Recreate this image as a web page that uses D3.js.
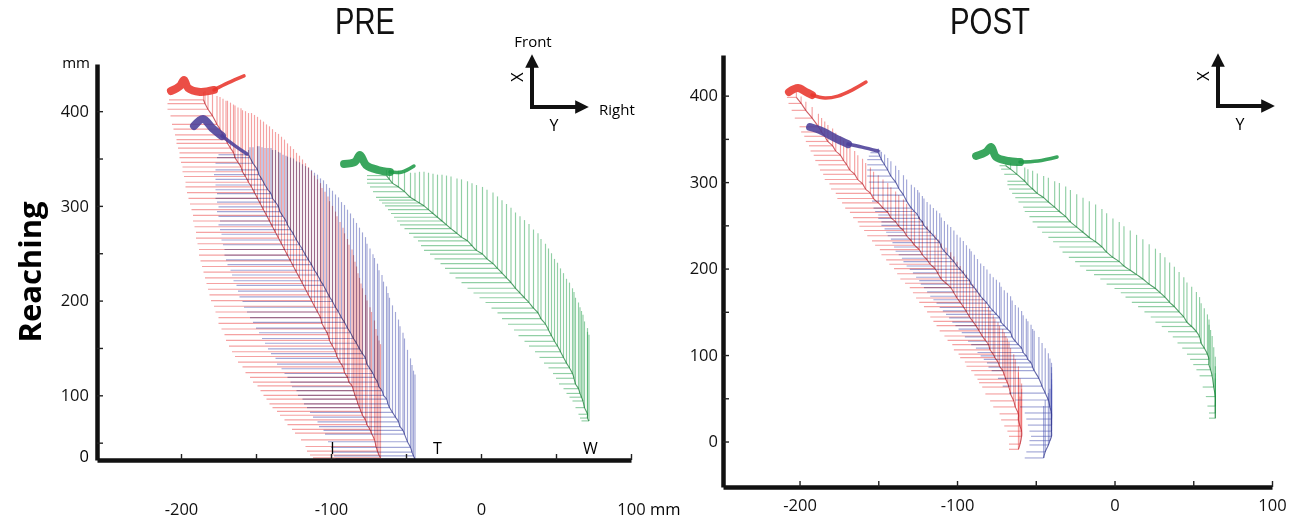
<!DOCTYPE html>
<html><head><meta charset="utf-8">
<script src="https://cdnjs.cloudflare.com/ajax/libs/d3/7.8.5/d3.min.js"></script>
<style>body{margin:0;background:#fff;}svg{display:block;}</style>
</head><body>
<svg id="chart" width="1300" height="527"></svg>
<script>
// ---------- DATA (mm) ----------
const panelTitles = ["PRE", "POST"];
const markerNames = ["I", "T", "W"];
const xTicks = [-200, -150, -100, -50, 0, 50, 100];
const xTickLabels = [-200, -100, 0, 100];
const yTicksPre = [50, 100, 150, 200, 250, 300, 350, 400];
const yTicksPost = [0, 50, 100, 150, 200, 250, 300, 350, 400];
const yTickLabels = [0, 100, 200, 300, 400];

// rows: [x, y, horizontal stick length, vertical stick length]
const preI = [[-185,412,23,8],[-184,408,25,13],[-182,402,27,17],[-179,395,28,23],[-176,386,30,30],[-174,381,31,34],[-172,375,32,38],[-170,370,33,41],[-169,366,34,45],[-167,361,35,48],[-165,356,36,51],[-164,351,37,55],[-162,346,38,58],[-160,341,39,62],[-159,336,40,65],[-157,331,41,69],[-155,325,42,73],[-153,320,44,78],[-151,314,45,82],[-149,308,46,86],[-147,302,47,89],[-145,296,48,93],[-143,290,49,96],[-141,284,51,100],[-139,278,52,103],[-137,272,53,106],[-135,266,55,110],[-133,260,56,113],[-131,254,57,116],[-129,248,59,118],[-127,242,60,121],[-125,236,61,124],[-123,230,62,126],[-121,224,63,129],[-119,218,64,131],[-117,212,65,133],[-115,206,66,135],[-113,200,67,137],[-111,194,67,138],[-109,188,68,140],[-107,182,68,142],[-106,176,69,143],[-104,170,69,145],[-102,164,69,146],[-101,158,69,147],[-99,152,69,148],[-97,146,69,148],[-96,141,68,148],[-94,135,68,148],[-92,130,67,147],[-91,124,66,147],[-89,119,65,146],[-88,114,64,145],[-86,110,63,144],[-85,105,62,143],[-84,100,61,141],[-83,96,60,140],[-82,91,59,138],[-81,87,58,137],[-80,83,56,135],[-79,79,55,134],[-77,74,54,132],[-76,69,53,131],[-74,64,52,129],[-73,60,51,128],[-71,53,49,126],[-70,46,47,124],[-69,41,47,122],[-68,37,46,121],[-67,34,45,120]];
const preT = [[-155,354,20,5],[-154,351,22,11],[-152,345,25,17],[-149,338,28,25],[-148,333,30,30],[-146,328,31,34],[-144,322,33,39],[-142,317,35,44],[-140,313,36,48],[-139,308,38,51],[-137,304,39,55],[-135,299,40,58],[-134,294,42,62],[-132,289,43,65],[-130,284,44,69],[-129,280,46,72],[-127,275,47,76],[-125,270,48,80],[-123,264,50,83],[-121,259,51,87],[-119,254,52,90],[-117,248,54,94],[-115,243,55,97],[-113,238,56,100],[-111,232,56,103],[-109,227,57,106],[-107,221,58,108],[-105,216,58,111],[-103,210,59,113],[-101,204,60,115],[-99,199,60,117],[-97,193,61,119],[-95,188,61,121],[-93,182,61,122],[-91,177,61,124],[-89,171,61,125],[-87,166,61,126],[-85,160,61,127],[-83,155,61,127],[-81,149,61,128],[-79,144,61,128],[-77,139,60,128],[-76,133,60,127],[-74,128,59,127],[-72,123,59,126],[-71,119,58,126],[-69,114,58,125],[-68,109,58,123],[-66,105,57,122],[-65,100,57,120],[-63,96,56,119],[-62,91,56,117],[-61,87,55,116],[-59,82,55,113],[-57,77,55,111],[-55,72,54,108],[-54,67,54,106],[-52,63,53,103],[-51,59,53,101],[-49,51,53,97],[-47,45,53,94],[-46,40,53,92],[-45,36,53,90],[-44,33,53,89]];
const preW = [[-63,332,13,6],[-61,328,15,10],[-59,324,17,13],[-55,320,19,17],[-51,315,21,21],[-47,309,23,26],[-44,306,24,29],[-41,303,25,33],[-38,300,26,36],[-35,296,27,39],[-32,292,28,42],[-29,288,29,45],[-26,284,30,49],[-23,280,31,52],[-20,276,31,55],[-16,271,32,58],[-13,267,32,61],[-9,263,33,63],[-6,258,34,66],[-3,253,35,69],[1,249,35,71],[4,244,35,73],[8,239,35,75],[11,234,35,76],[14,229,35,77],[17,224,34,78],[20,219,33,79],[23,213,32,80],[26,208,31,81],[29,203,30,82],[32,198,29,83],[35,192,28,83],[38,187,27,84],[40,181,26,84],[43,175,25,85],[45,169,23,86],[47,163,22,87],[49,157,20,87],[51,152,19,88],[53,146,17,88],[55,140,16,89],[57,134,15,89],[59,129,14,90],[61,123,13,90],[62,118,12,91],[63,112,11,91],[65,107,10,91],[66,102,9,91],[67,98,8,91],[68,94,7,91],[69,87,6,91],[71,80,6,91],[71,76,5,91],[72,73,5,91]];
const postI = [[-202,398,6,6],[-199,391,8,8],[-196,383,9,10],[-192,374,11,13],[-188,364,12,15],[-186,358,13,16],[-184,353,13,17],[-182,347,14,19],[-179,342,15,20],[-177,336,16,21],[-174,331,17,22],[-172,325,18,23],[-170,320,18,24],[-168,314,19,26],[-165,309,20,27],[-163,303,21,28],[-160,298,21,29],[-158,292,22,30],[-155,287,22,30],[-153,281,23,31],[-150,276,23,32],[-147,270,24,33],[-144,265,24,34],[-142,259,24,35],[-139,254,24,35],[-137,249,25,36],[-134,244,25,36],[-132,238,25,37],[-129,232,25,37],[-127,227,25,38],[-124,222,25,38],[-122,216,26,39],[-119,210,26,39],[-117,205,26,39],[-114,200,26,39],[-112,194,26,40],[-110,188,26,41],[-107,183,26,41],[-104,178,26,41],[-102,172,26,42],[-100,166,26,42],[-98,161,26,42],[-96,156,25,42],[-94,150,25,43],[-92,144,25,43],[-90,139,25,43],[-88,134,25,43],[-86,128,25,44],[-84,122,24,44],[-82,117,24,44],[-80,112,23,44],[-79,106,23,45],[-77,101,22,45],[-76,97,22,45],[-74,92,21,46],[-73,87,21,47],[-71,82,20,48],[-70,77,19,49],[-69,72,18,50],[-68,68,18,51],[-67,63,17,52],[-66,55,16,53],[-64,47,15,54],[-63,40,14,55],[-61,32,12,55],[-61,25,11,55],[-60,18,10,55],[-59,12,9,55],[-59,6,8,55],[-60,-3,7,55],[-61,-9,6,55]];
const postT = [[-150,334,5,5],[-149,330,7,7],[-148,326,9,9],[-146,320,11,12],[-144,314,13,14],[-142,307,15,17],[-139,300,17,19],[-137,293,18,21],[-134,285,20,23],[-132,278,22,25],[-129,270,24,27],[-127,266,25,28],[-125,262,25,29],[-124,258,26,30],[-122,254,26,30],[-121,250,27,31],[-119,246,27,31],[-117,242,28,32],[-115,238,29,32],[-113,234,29,33],[-111,230,30,34],[-110,225,30,34],[-108,220,31,35],[-106,216,31,35],[-104,212,31,36],[-102,208,32,36],[-100,203,32,36],[-98,199,32,37],[-96,195,32,37],[-94,190,32,37],[-92,186,32,37],[-91,182,32,38],[-89,178,32,38],[-87,173,32,38],[-85,168,32,38],[-83,164,32,39],[-81,160,32,39],[-79,155,32,39],[-77,151,32,39],[-75,147,32,40],[-73,143,32,41],[-72,138,31,41],[-70,134,31,41],[-68,130,31,42],[-66,126,31,42],[-65,121,30,42],[-63,116,30,42],[-61,112,30,43],[-59,108,29,43],[-58,103,29,43],[-56,99,29,43],[-55,95,28,44],[-53,91,28,44],[-52,86,28,44],[-51,82,27,46],[-48,73,26,48],[-46,64,25,50],[-44,56,23,52],[-42,48,21,54],[-41,40,19,56],[-40,33,17,58],[-40,26,16,60],[-40,19,15,60],[-40,12,14,60],[-40,6,13,60],[-41,1,13,60],[-42,-4,12,60],[-44,-12,12,60],[-45,-19,12,60]];
const postW = [[-69,319,4,3],[-66,315,6,7],[-62,309,8,12],[-57,301,11,16],[-55,297,13,18],[-52,292,15,21],[-49,287,16,23],[-45,282,18,25],[-42,277,19,28],[-38,271,20,30],[-35,266,22,33],[-31,260,23,35],[-28,254,24,37],[-24,248,25,38],[-20,242,26,40],[-16,236,26,42],[-12,231,27,43],[-8,225,27,44],[-5,219,28,45],[-1,213,28,45],[3,208,28,46],[6,203,28,46],[10,198,28,46],[14,193,27,46],[18,188,27,46],[22,182,27,46],[26,177,26,46],[29,172,25,46],[32,167,25,46],[35,161,24,46],[38,156,23,46],[41,150,22,46],[44,144,21,46],[46,138,20,46],[49,133,19,46],[52,127,18,46],[54,121,17,46],[55,114,15,46],[57,108,14,46],[59,101,13,46],[60,95,12,46],[60,89,10,46],[61,83,9,46],[62,76,8,46],[63,63,7,46],[64,52,6,46],[64,41,5,46],[64,33,4,46],[64,27,4,46]];

// start-position clusters: thick body and thinner tail (x, y)
const preIStart = [[-206.7,421.3],[-200.7,426.6],[-198,433],[-195.3,424.5],[-187.3,420.3],[-178,422.4]];
const preITail = [[-178,422.4],[-168.7,429.8],[-158,437.2]];
const preTStart = [[-191.3,384.4],[-185.3,391.8],[-179.3,382.3],[-172.7,373.8]];
const preTTail = [[-172.7,373.8],[-164,363.3],[-156,354.8]];
const preWStart = [[-91.3,344.3],[-84,346.4],[-80.7,353.8],[-76.7,343.2],[-68.7,337.9],[-60.7,335.8]];
const preWTail = [[-60.7,335.8],[-52.7,335.8],[-44.7,342.1]];
const postIStart = [[-206.7,404.2],[-201,408.8],[-195.9,404.2],[-192.1,400.7]];
const postITail = [[-192.1,400.7],[-183.8,397.2],[-175.6,399.5],[-166.7,406.4],[-157.8,415.7]];
const postTStart = [[-193.3,363.7],[-185.7,359],[-177.5,351],[-169.2,344]];
const postTTail = [[-169.2,344],[-160.3,340.5],[-150.2,335.9]];
const postWStart = [[-87.9,330.2],[-81.6,334.8],[-78.4,340.6],[-75.2,329],[-67.6,324.4],[-60,323.2]];
const postWTail = [[-60,323.2],[-48.6,324.4],[-36.5,329]];

const markerLabelPos = [[-99,44],[-29,44],[73,44]]; // I, T, W in PRE

// ---------- STYLE ----------
const col = {
  I: {stick: "rgba(236,70,70,0.5)", spine: "rgba(190,40,50,0.75)", blob: "#e8352c"},
  T: {stick: "rgba(70,80,175,0.5)", spine: "rgba(50,55,140,0.75)", blob: "#4b3f98"},
  W: {stick: "rgba(35,160,75,0.5)", spine: "rgba(25,125,55,0.75)", blob: "#1f9a48"}
};
const svg = d3.select("#chart");
const FONT = "'Open Sans', 'Noto Sans', sans-serif";

function panel(cfg) {
  const g = svg.append("g");
  const x = d3.scaleLinear().domain(cfg.xDomain).range(cfg.xRange);
  const y = d3.scaleLinear().domain(cfg.yDomain).range(cfg.yRange);

  cfg.lenses.forEach(([rows, key]) => {
    const lg = g.append("g").style("mix-blend-mode", "multiply");
    lg.selectAll("line.h").data(rows).join("line").attr("class", "h")
      .attr("x1", d => x(d[0] - d[2])).attr("x2", d => x(d[0]))
      .attr("y1", d => y(d[1])).attr("y2", d => y(d[1]))
      .attr("stroke", col[key].stick).attr("stroke-width", 1.15);
    lg.selectAll("line.v").data(rows).join("line").attr("class", "v")
      .attr("x1", d => x(d[0])).attr("x2", d => x(d[0]))
      .attr("y1", d => y(d[1])).attr("y2", d => y(d[1] + d[3]))
      .attr("stroke", col[key].stick).attr("stroke-width", 1.15);
    lg.append("path").datum(rows)
      .attr("d", d3.line().x(d => x(d[0])).y(d => y(d[1])).curve(d3.curveCatmullRom))
      .attr("fill", "none").attr("stroke", col[key].spine).attr("stroke-width", 1.1);
  });
  const bl = d3.line().x(d => x(d[0])).y(d => y(d[1])).curve(d3.curveCatmullRom);
  cfg.starts.forEach(([body, tail, key]) => {
    g.append("path").datum(body).attr("d", bl)
      .attr("fill", "none").attr("stroke", col[key].blob).attr("stroke-width", 8)
      .attr("stroke-linecap", "round").attr("stroke-linejoin", "round").attr("opacity", 0.88);
    g.append("path").datum(tail).attr("d", bl)
      .attr("fill", "none").attr("stroke", col[key].blob).attr("stroke-width", 3.5)
      .attr("stroke-linecap", "round").attr("stroke-linejoin", "round").attr("opacity", 0.88);
  });

  const yAxis = d3.axisLeft(y).tickValues(cfg.yTicks).tickSizeInner(-6).tickSizeOuter(0)
    .tickPadding(cfg.yPad).tickFormat(d => yTickLabels.includes(d) ? d : "");
  const ya = g.append("g").attr("transform", `translate(${cfg.xRange[0]},0)`).call(yAxis);
  const xAxis = d3.axisBottom(x).tickValues(xTicks).tickSizeInner(-6).tickSizeOuter(0)
    .tickPadding(cfg.xPad).tickFormat(d => xTickLabels.includes(d) ? d : "");
  const xa = g.append("g").attr("transform", `translate(0,${cfg.yRange[0]})`).call(xAxis);
  [ya, xa].forEach(a => {
    a.select(".domain").attr("stroke", "#111").attr("stroke-width", 4.5);
    a.selectAll(".tick line").attr("stroke", "#222").attr("stroke-width", 1.4);
    a.selectAll("text").attr("font-family", FONT).attr("font-size", 16.5).attr("fill", "#111");
  });
  if (cfg.zeroAtBase) {
    g.append("text").attr("x", cfg.xRange[0] - cfg.yPad).attr("y", y(cfg.yDomain[0]))
      .attr("dy", "0.1em").attr("text-anchor", "end").attr("font-family", FONT).attr("font-size", 16.5)
      .text(yTickLabels[0]);
  }
  g.append("text").attr("x", cfg.titleX).attr("y", 34).attr("text-anchor", "middle")
    .attr("font-family", "'Liberation Sans Narrow', 'Liberation Sans', sans-serif").attr("font-size", 36)
    .attr("textLength", cfg.titleW).attr("lengthAdjust", "spacingAndGlyphs")
    .attr("fill", "#111").text(cfg.title);
  return {g, x, y};
}

const pre = panel({
  title: panelTitles[0], titleX: 365, titleW: 60,
  xDomain: [-256, 100], xRange: [97, 631],
  yDomain: [31.7, 449.8], yRange: [460, 64],
  yTicks: yTicksPre, yPad: 8, xPad: 43, zeroAtBase: true,
  lenses: [[preT, "T"], [preI, "I"], [preW, "W"]],
  starts: [[preTStart, preTTail, "T"], [preIStart, preITail, "I"], [preWStart, preWTail, "W"]]
});
const post = panel({
  title: panelTitles[1], titleX: 990, titleW: 80,
  xDomain: [-248.6, 100], xRange: [723, 1272],
  yDomain: [-52.6, 447], yRange: [487, 55],
  yTicks: yTicksPost, yPad: 5, xPad: 12, zeroAtBase: false,
  lenses: [[postT, "T"], [postI, "I"], [postW, "W"]],
  starts: [[postTStart, postTTail, "T"], [postIStart, postITail, "I"], [postWStart, postWTail, "W"]]
});

pre.g.selectAll("text.mk").data(markerLabelPos).join("text").attr("class", "mk")
  .attr("x", d => pre.x(d[0])).attr("y", d => pre.y(d[1])).attr("dy", "0.35em")
  .attr("text-anchor", "middle").attr("font-family", FONT).attr("font-size", 16)
  .text((d, i) => markerNames[i]);

svg.append("text").attr("x", 90).attr("y", 68).attr("text-anchor", "end")
  .attr("font-family", FONT).attr("font-size", 15).text("mm");
svg.append("text").attr("x", 650).attr("y", 515)
  .attr("font-family", FONT).attr("font-size", 16.5).text("mm");

svg.append("text").attr("transform", "translate(41,272) rotate(-90)").attr("text-anchor", "middle")
  .attr("font-family", FONT).attr("font-weight", 700).attr("font-size", 31).text("Reaching");

const defs = svg.append("defs");
defs.append("marker").attr("id", "ah").attr("viewBox", "0 0 10 10").attr("refX", 5).attr("refY", 5)
  .attr("markerWidth", 3.4).attr("markerHeight", 3.4).attr("orient", "auto-start-reverse")
  .append("path").attr("d", "M0,0 L10,5 L0,10 z").attr("fill", "#111");
function frame(cx, cy, up, right, lblFront, lblRight) {
  const gg = svg.append("g");
  gg.append("path").attr("d", `M${cx},${cy} V${cy - up}`).attr("stroke", "#111").attr("stroke-width", 4)
    .attr("marker-end", "url(#ah)").attr("fill", "none");
  gg.append("path").attr("d", `M${cx - 2},${cy} H${cx + right}`).attr("stroke", "#111").attr("stroke-width", 4)
    .attr("marker-end", "url(#ah)").attr("fill", "none");
  gg.append("text").attr("transform", `translate(${cx - 15},${cy - 30}) rotate(-90)`).attr("text-anchor", "middle")
    .attr("dy", "0.35em").attr("font-family", FONT).attr("font-size", 16).text("X");
  gg.append("text").attr("x", cx + 22).attr("y", cy + 24).attr("text-anchor", "middle")
    .attr("font-family", FONT).attr("font-size", 16).text("Y");
  if (lblFront) gg.append("text").attr("x", cx + 1).attr("y", cy - 60).attr("text-anchor", "middle")
    .attr("font-family", FONT).attr("font-size", 15).text(lblFront);
  if (lblRight) gg.append("text").attr("x", cx + 67).attr("y", cy + 8)
    .attr("font-family", FONT).attr("font-size", 15).text(lblRight);
}
frame(532, 107, 46, 50, "Front", "Right");
frame(1218, 106, 46, 50, null, null);
</script>
</body></html>
